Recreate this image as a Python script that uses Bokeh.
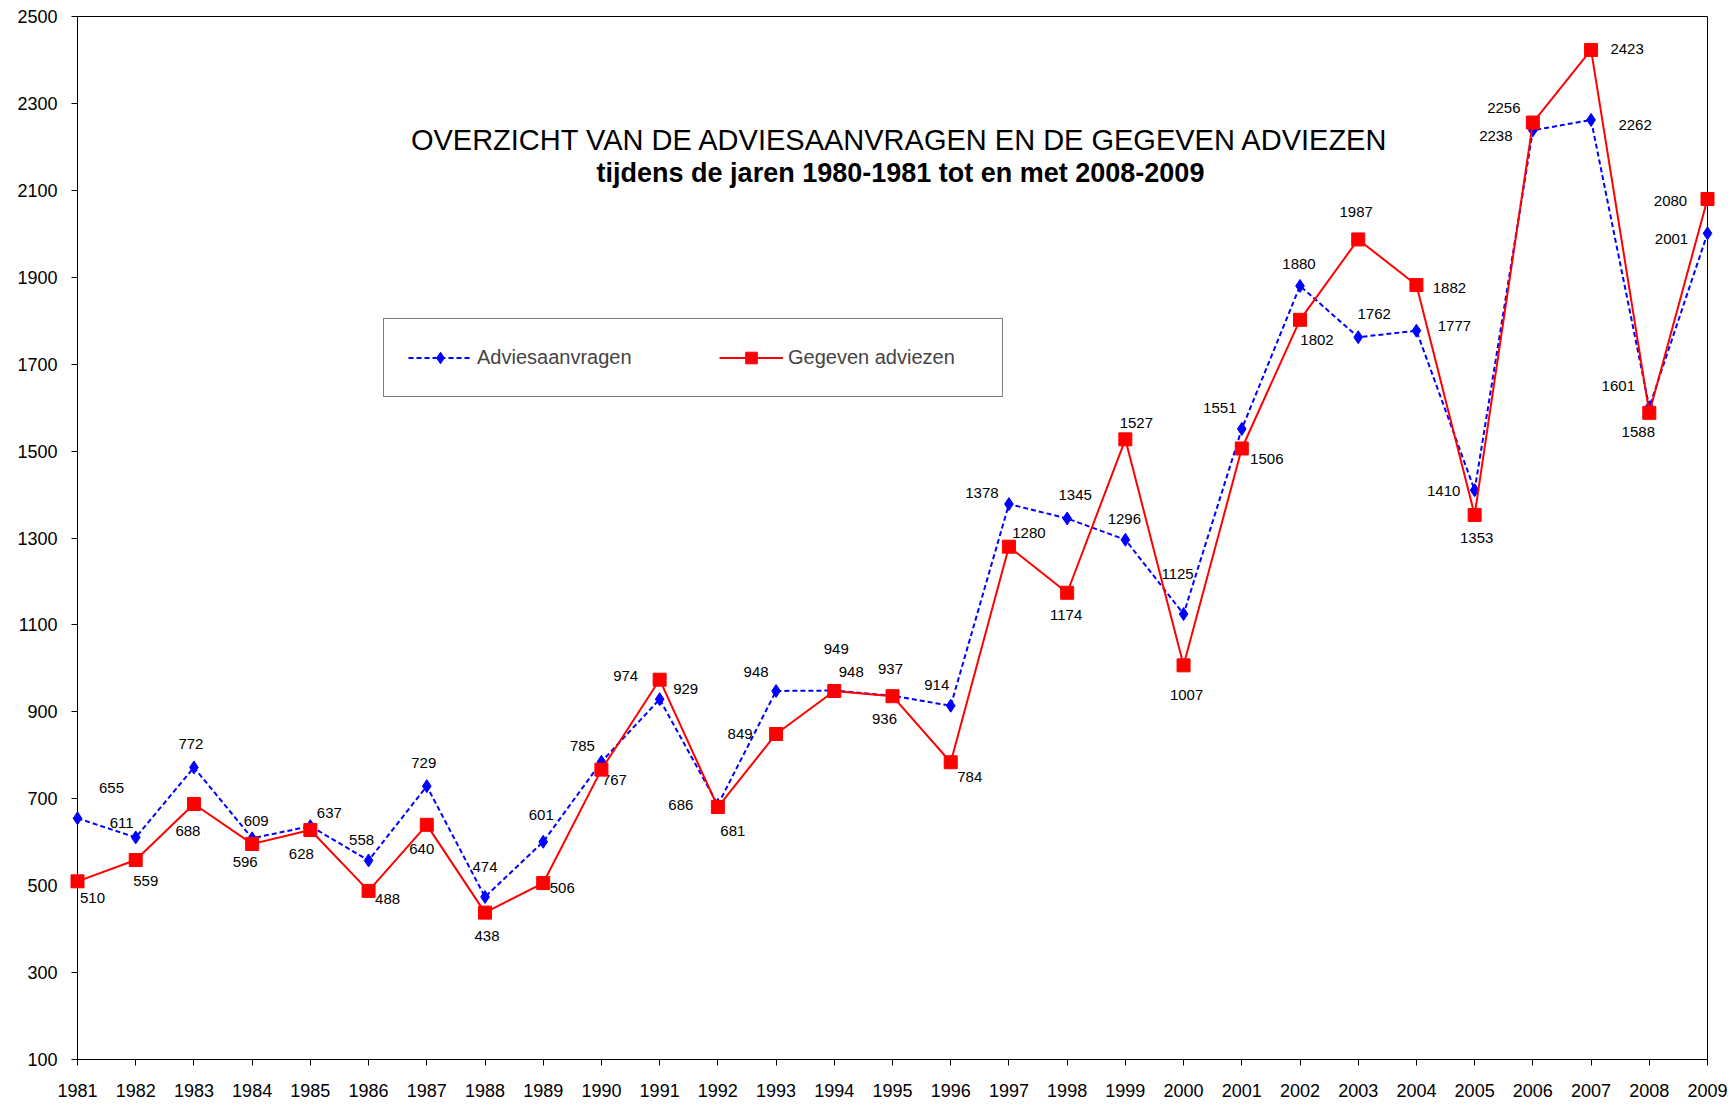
import numpy as np
from bokeh.plotting import figure
from bokeh.models import (ColumnDataSource, FixedTicker, Range1d, Legend, LegendItem, Label)
from bokeh.core.properties import value
from bokeh.embed import file_html
from bokeh.resources import INLINE

years = list(range(1981, 2010))
adviesaanvragen = [655, 611, 772, 609, 637, 558, 729, 474, 601, 785, 929, 686, 948, 949,
                   937, 914, 1378, 1345, 1296, 1125, 1551, 1880, 1762, 1777, 1410, 2238,
                   2262, 1601, 2001]
gegeven = [510, 559, 688, 596, 628, 488, 640, 438, 506, 767, 974, 681, 849, 948,
           936, 784, 1280, 1174, 1527, 1007, 1506, 1802, 1987, 1882, 1353, 2256,
           2423, 1588, 2080]
y_ticks = list(range(100, 2501, 200))

title_text = "OVERZICHT VAN DE ADVIESAANVRAGEN EN DE GEGEVEN ADVIEZEN"
subtitle_text = "tijdens de jaren 1980-1981 tot en met 2008-2009"
legend_labels = ["Adviesaanvragen", "Gegeven adviezen"]

# label placement offsets (screen pixels, dy positive = down)
blue_dx = [34, -14, -3, 4, 19, -7, -3, 0, -2, -19, 26, -37, -20, 2, -2, -14, -27, 8, -1, -6,
           -22, -1, 16, 38, -31, -37, 44, -31, -36]
blue_dy = [-30, -14, -23, -17, -13, -20, -23, -30, -27, -16, -10, 0, -19, -42, -27, -21, -11,
           -23, -21, -40, -21, -22, -23, -5, 1, 6, 5, -21, 6]
red_dx = [15, 10, -6, -7, -9, 19, -5, 2, 19, 13, -34, 15, -36, 17, -8, 19, 20, -1, 11, 3,
          25, 17, -2, 33, 2, -29, 36, -11, -37]
red_dy = [17, 21, 27, 18, 24, 8, 24, 23, 5, 10, -4, 24, 0, -19, 23, 15, -14, 22, -16, 30,
          11, 20, -27, 3, 23, -15, -1, 19, 2]

BLUE = "#0000FF"
RED = "#FF0000"
FONT = "Liberation Sans"

src_b = ColumnDataSource(dict(x=years, y=adviesaanvragen, t=[str(v) for v in adviesaanvragen],
                              dx=blue_dx, dy=blue_dy))
src_r = ColumnDataSource(dict(x=years, y=gegeven, t=[str(v) for v in gegeven],
                              dx=red_dx, dy=red_dy))

p = figure(frame_width=1630, frame_height=1043, output_backend="svg", toolbar_location=None,
           x_range=Range1d(1981, 2009), y_range=Range1d(100, 2500),
           min_border_left=77, min_border_top=16, min_border_right=24, min_border_bottom=10)
p.background_fill_color = "white"
p.border_fill_color = "white"
p.outline_line_color = "black"
p.outline_line_width = 1
p.xgrid.visible = False
p.ygrid.visible = False

for ax in (p.xaxis[0], p.yaxis[0]):
    ax.axis_line_color = "black"
    ax.major_tick_line_color = "black"
    ax.minor_tick_line_color = None
    ax.major_tick_in = 0
    ax.major_tick_out = 6
    ax.major_label_text_font = FONT
    ax.major_label_text_font_size = "18px"
    ax.major_label_text_color = "black"

p.xaxis.ticker = FixedTicker(ticks=years)
p.yaxis.ticker = FixedTicker(ticks=y_ticks)
p.xaxis.major_label_standoff = 18
p.yaxis.major_label_standoff = 14

bl = p.line("x", "y", source=src_b, line_color=BLUE, line_width=2, line_dash="5 3")
bs = p.scatter("x", "y", source=src_b, marker="diamond", size=13,
               fill_color=BLUE, line_color=BLUE)
rl = p.line("x", "y", source=src_r, line_color=RED, line_width=2)
rs = p.scatter("x", "y", source=src_r, marker="square", size=13, fill_color=RED, line_color=RED)
for r in (bl, bs, rl, rs):
    r.level = "overlay"

for src in (src_b, src_r):
    p.text("x", "y", text="t", source=src, x_offset="dx", y_offset="dy",
           text_align="center", text_baseline="middle", text_color="black",
           text_font=value(FONT), text_font_size="15px")

legend = Legend(items=[LegendItem(label=legend_labels[0], renderers=[bl, bs]),
                       LegendItem(label=legend_labels[1], renderers=[rl, rs])],
                orientation="horizontal", location=(306, 662), margin=0, padding=24,
                spacing=52, glyph_width=64, glyph_height=29, label_height=29,
                label_width=190, label_standoff=5,
                label_text_font=FONT, label_text_font_size="20px",
                label_text_baseline="middle",
                border_line_color="black", border_line_width=1,
                background_fill_color="white", background_fill_alpha=1)
p.add_layout(legend, "center")

p.add_layout(Label(x=823, y=920, x_units="screen", y_units="screen", text=title_text,
                   text_align="center", text_baseline="middle", text_font=FONT,
                   text_font_size="29px", text_font_style="normal", text_color="black"))
p.add_layout(Label(x=823, y=887, x_units="screen", y_units="screen", text=subtitle_text,
                   text_align="center", text_baseline="middle", text_font=FONT,
                   text_font_size="27px", text_font_style="bold", text_color="black"))

open("out.html", "w").write(file_html(p, INLINE))
